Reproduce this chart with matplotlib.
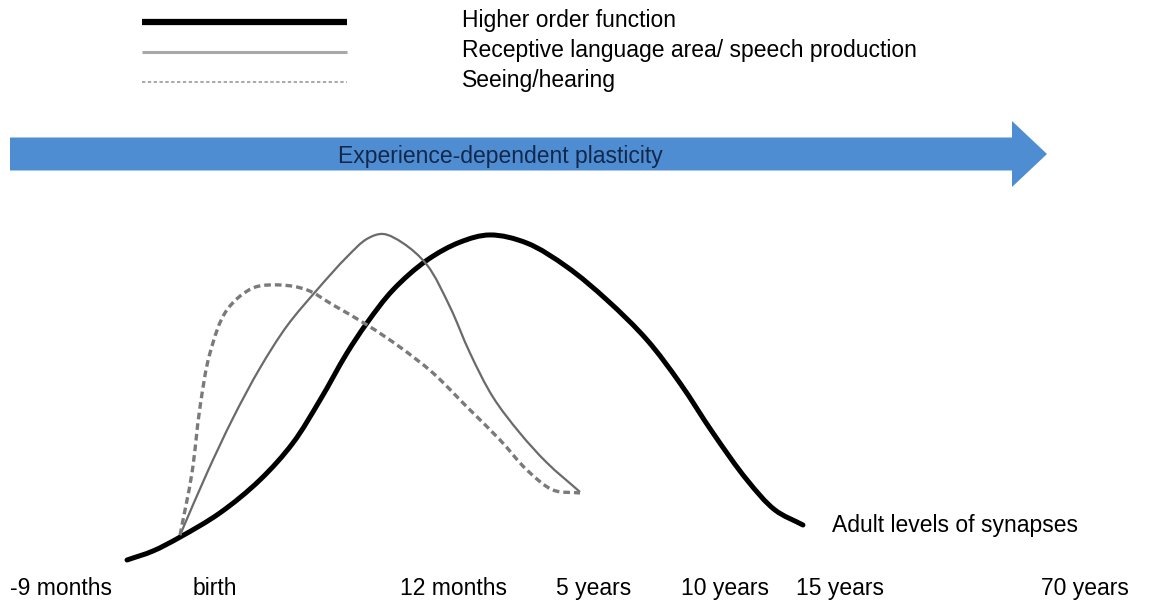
import numpy as np
import matplotlib.pyplot as plt
from matplotlib.path import Path
from matplotlib.patches import PathPatch, FancyArrow

# ---------------------------------------------------------------------
# Data: timeline position (0-100) and relative synapse density (0-100)
# ---------------------------------------------------------------------
age_labels = ["-9 months", "birth", "12 months", "5 years", "10 years", "15 years", "70 years"]
age_pos = [5.3, 18.6, 39.2, 51.3, 62.7, 72.6, 93.8]

higher_t = [10.98, 13.22, 15.56, 19.01, 22.47, 25.32, 27.66, 29.99, 31.72, 33.97, 36.91,
            39.76, 42.35, 45.55, 49.01, 52.46, 55.92, 58.77, 61.63, 64.56, 66.98, 69.40]
higher_v = [0.0, 2.75, 7.0, 14.4, 24.5, 35.8, 48.9, 63.3, 72.5, 82.6, 91.7,
            97.2, 99.4, 96.9, 89.6, 79.5, 67.3, 54.1, 38.8, 24.5, 15.3, 10.7]

language_t = [15.56, 17.89, 20.14, 22.47, 24.81, 27.40, 29.99, 31.72, 33.10, 34.83,
              36.91, 38.89, 40.62, 42.61, 44.94, 47.28, 50.13]
language_v = [7.6, 26.6, 43.4, 58.7, 71.6, 82.6, 92.7, 98.2, 99.7, 96.9,
              90.2, 77.4, 63.3, 49.8, 38.8, 29.7, 20.8]

seeing_t = [15.56, 16.59, 17.29, 18.15, 19.62, 21.87, 24.20, 26.53, 28.78, 31.72,
            34.57, 37.42, 40.36, 43.22, 45.55, 47.80, 50.13]
seeing_v = [7.6, 26.6, 46.8, 63.3, 76.5, 83.2, 84.1, 82.6, 78.0, 71.9,
            65.1, 57.2, 46.8, 36.7, 27.5, 21.4, 20.5]

series_names = ["Higher order function",
                "Receptive language area/ speech production",
                "Seeing/hearing"]

FONT = "Liberation Sans"
FS = 16.5


def smooth_path(ax, xs, ys, alpha=0.5):
    """Centripetal Catmull-Rom through the points (in display space),
    handed to matplotlib as cubic Bezier segments in data space."""
    tr = ax.transData
    p = tr.transform(np.column_stack([xs, ys]).astype(float))
    p = np.vstack([2 * p[0] - p[1], p, 2 * p[-1] - p[-2]])
    verts = [p[1]]
    codes = [Path.MOVETO]
    for i in range(1, len(p) - 2):
        p0, p1, p2, p3 = p[i - 1], p[i], p[i + 1], p[i + 2]
        d1 = max(np.linalg.norm(p1 - p0) ** alpha, 1e-6)
        d2 = max(np.linalg.norm(p2 - p1) ** alpha, 1e-6)
        d3 = max(np.linalg.norm(p3 - p2) ** alpha, 1e-6)
        b1 = (d1 ** 2 * p2 - d2 ** 2 * p0 + (2 * d1 ** 2 + 3 * d1 * d2 + d2 ** 2) * p1) / (3 * d1 * (d1 + d2))
        b2 = (d3 ** 2 * p1 - d2 ** 2 * p3 + (2 * d3 ** 2 + 3 * d3 * d2 + d2 ** 2) * p2) / (3 * d3 * (d3 + d2))
        verts += [b1, b2, p2]
        codes += [Path.CURVE4] * 3
    verts = tr.inverted().transform(np.array(verts))
    return Path(verts, codes)


fig = plt.figure(figsize=(11.57, 6.0), dpi=100)
ax = fig.add_axes([0, 30 / 600, 1, 570 / 600])
ax.set_xlim(0, 100)
ax.set_ylim(-3.06, 171.25)
for s in ax.spines.values():
    s.set_visible(False)
ax.set_yticks([])
ax.set_xticks(age_pos)
ax.set_xticklabels(age_labels, fontsize=FS, family=FONT)
ax.tick_params(axis="x", length=0, pad=5)

# -- curves -----------------------------------------------------------
ax.add_patch(PathPatch(smooth_path(ax, higher_t, higher_v), fill=False,
                       edgecolor="black", lw=3.6, capstyle="round", joinstyle="round"))
ax.add_patch(PathPatch(smooth_path(ax, language_t, language_v), fill=False,
                       edgecolor="#6a6a6a", lw=1.6, joinstyle="round"))
ax.add_patch(PathPatch(smooth_path(ax, seeing_t, seeing_v), fill=False,
                       edgecolor="#7a7a7a", lw=2.4, linestyle=(0, (2.0, 1.2))))

ax.text(71.9, 10.7, "Adult levels of synapses", fontsize=FS, family=FONT,
        va="center", ha="left")

# -- legend (drawn by hand, figure coordinates) ------------------------
leg_styles = [dict(color="black", lw=4.5),
              dict(color="#a8a8a8", lw=2.2),
              dict(color="#999999", lw=1.2, linestyle=(0, (2, 1.5)))]
line_y = [1 - 22 / 600, 1 - 52 / 600, 1 - 82 / 600]
text_y = [1 - 20 / 600, 1 - 50 / 600, 1 - 81 / 600]
for name, st, ly, ty in zip(series_names, leg_styles, line_y, text_y):
    fig.add_artist(plt.Line2D([142 / 1157, 347 / 1157], [ly, ly],
                              transform=fig.transFigure, solid_capstyle="butt", **st))
    fig.text(462 / 1157, ty, name, fontsize=FS, family=FONT, va="center", ha="left")

# -- plasticity arrow ---------------------------------------------------
arrow = FancyArrow(10 / 1157, 1 - 154 / 600, 1037 / 1157, 0,
                   width=33 / 600, head_width=66 / 600, head_length=35 / 1157,
                   length_includes_head=True, transform=fig.transFigure,
                   facecolor="#4f8dd3", edgecolor="#4f8dd3", lw=0)
fig.add_artist(arrow)
fig.text(500 / 1157, 1 - 156 / 600, "Experience-dependent plasticity", fontsize=FS,
         family=FONT, color="#13284a", va="center", ha="center")

fig.savefig("out.png", dpi=100)
